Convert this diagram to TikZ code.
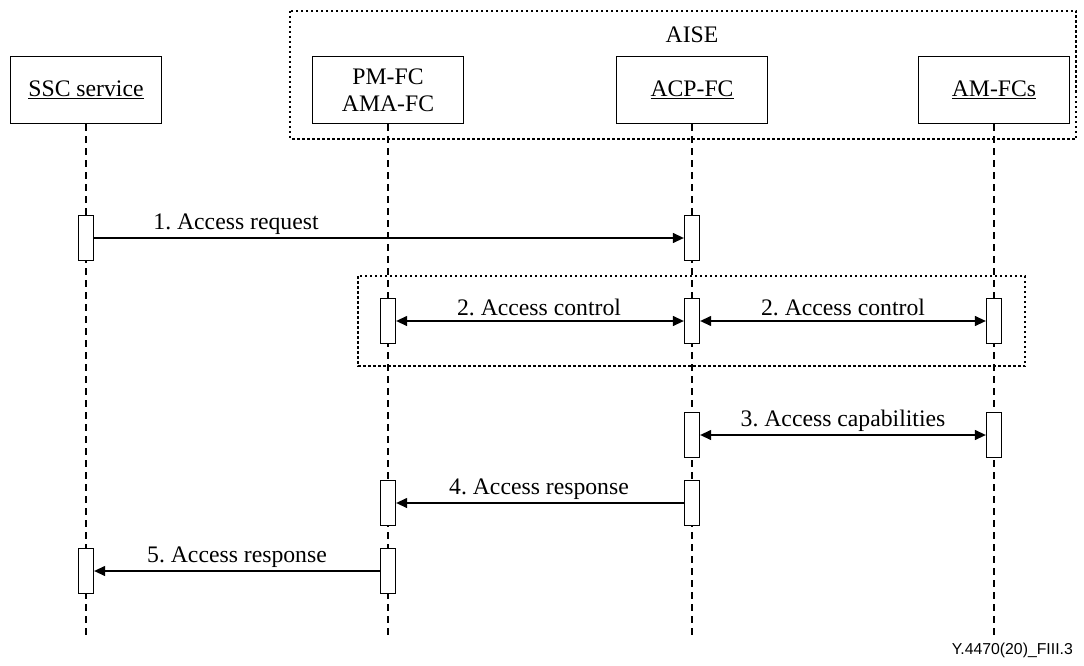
\documentclass[tikz,border=0pt]{standalone}
\usepackage{fontspec}
\setmainfont{Liberation Serif}
\newfontfamily\footfont{Liberation Sans}
\usetikzlibrary{arrows.meta}
\frenchspacing
\begin{document}
\begin{tikzpicture}[x=1pt,y=-1pt,
  every node/.style={font=\fontsize{23.7}{27}\selectfont, inner sep=0pt},
  entity/.style={draw, line width=1.3pt, minimum width=151pt, minimum height=67pt, align=center},
  life/.style={line width=1.1pt, dash pattern=on 7pt off 5pt},
  actbox/.style={draw, fill=white, line width=1.3pt, minimum width=15pt, minimum height=45pt},
  msg/.style={line width=1.3pt, -{Triangle[length=11pt,width=10pt]}},
  bimsg/.style={line width=1.3pt, {Triangle[length=11pt,width=10pt]}-{Triangle[length=11pt,width=10pt]}},
  grp/.style={line width=1.3pt, dash pattern=on 2.5pt off 2.5pt},
  lbl/.style={anchor=base}
]
\useasboundingbox (0,0) rectangle (1084,666);

% AISE group
\draw[grp] (290,11) rectangle (1076,139);
\node[lbl] (aise) at (692,43) {AISE};

% entities
\node[entity] (ssc) at (86,90) {\underline{SSC service}};
\node[entity] (pm) at (388,90) {PM-FC\\AMA-FC};
\node[entity] (acp) at (692,90) {\underline{ACP-FC}};
\node[entity] (am) at (994,90) {\underline{AM-FCs}};

% lifeline ends
\coordinate (sscE) at (86,639);
\coordinate (pmE) at (388,639);
\coordinate (acpE) at (692,639);
\coordinate (amE) at (994,639);
\draw[life] (ssc.south) -- (sscE);
\draw[life] (pm.south) -- (pmE);
\draw[life] (acp.south) -- (acpE);
\draw[life] (am.south) -- (amE);

% inner group
\draw[grp] (358,276) rectangle (1025,366);

% activations
\node[actbox] (s1) at (86,238) {};
\node[actbox] (c1) at (692,238) {};
\node[actbox] (p2) at (388,321) {};
\node[actbox] (c2) at (692,321) {};
\node[actbox] (m2) at (994,321) {};
\node[actbox] (c3) at (692,435) {};
\node[actbox] (m3) at (994,435) {};
\node[actbox] (p4) at (388,503) {};
\node[actbox] (c4) at (692,503) {};
\node[actbox] (s5) at (86,571) {};
\node[actbox] (p5) at (388,571) {};

% messages
\draw[msg] (s1.east) -- (c1.west);
\node[lbl] (l1) at (236,229) {1. Access request};
\draw[bimsg] (p2.east) -- (c2.west);
\node[lbl] (l2a) at (539,315) {2. Access control};
\draw[bimsg] (c2.east) -- (m2.west);
\node[lbl] (l2b) at (843,315) {2. Access control};
\draw[bimsg] (c3.east) -- (m3.west);
\node[lbl] (l3) at (843,426) {3. Access capabilities};
\draw[msg] (c4.west) -- (p4.east);
\node[lbl] (l4) at (539,494) {4. Access response};
\draw[msg] (p5.west) -- (s5.east);
\node[lbl] (l5) at (237,562) {5. Access response};

% footer
\node[anchor=base east, font=\footfont\fontsize{15.8}{18}\selectfont] (foot) at (1073,654) {Y.4470(20)\_FIII.3};
\end{tikzpicture}
\end{document}
